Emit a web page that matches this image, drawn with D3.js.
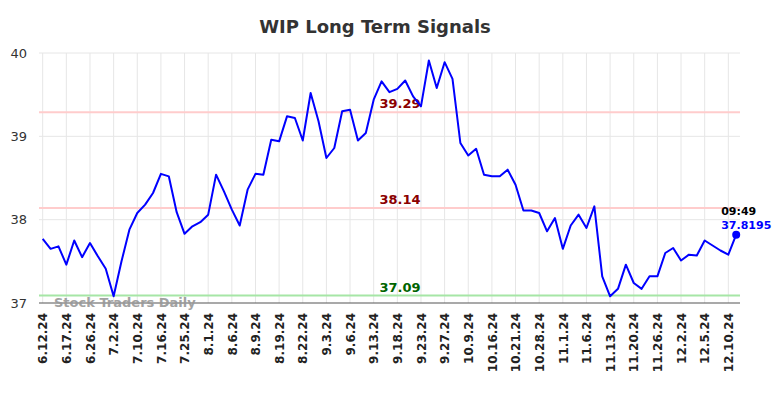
<!DOCTYPE html>
<html>
<head>
<meta charset="utf-8">
<script src="https://cdn.jsdelivr.net/npm/d3@7"></script>
<style>
  body { margin: 0; background: #fff; font-family: "DejaVu Sans", sans-serif; }
</style>
</head>
<body>
<div id="chart"></div>
<script>
// price values, one per trading session
const values = [
  37.77, 37.65, 37.68, 37.46, 37.75, 37.55, 37.72, 37.56, 37.41, 37.08,
  37.50, 37.88, 38.08, 38.18, 38.32, 38.55, 38.52, 38.09, 37.83, 37.92,
  37.97, 38.06, 38.54, 38.34, 38.12, 37.93, 38.36, 38.55, 38.54, 38.96,
  38.94, 39.24, 39.22, 38.95, 39.52, 39.18, 38.74, 38.86, 39.30, 39.32,
  38.95, 39.04, 39.44, 39.66, 39.53, 39.57, 39.67, 39.48, 39.36, 39.91,
  39.58, 39.89, 39.69, 38.92, 38.77, 38.85, 38.54, 38.52, 38.52, 38.60,
  38.42, 38.11, 38.11, 38.08, 37.86, 38.02, 37.65, 37.93, 38.06, 37.90,
  38.16, 37.32, 37.08, 37.17, 37.46, 37.24, 37.17, 37.32, 37.32, 37.60,
  37.66, 37.51, 37.58, 37.57, 37.75, 37.69, 37.63, 37.58, 37.8195
];

// one date label every third session
const tickLabels = [
  "6.12.24", "6.17.24", "6.26.24", "7.2.24", "7.10.24", "7.16.24", "7.25.24",
  "8.1.24", "8.6.24", "8.9.24", "8.19.24", "8.22.24", "9.3.24", "9.6.24",
  "9.13.24", "9.18.24", "9.23.24", "9.27.24", "10.9.24", "10.16.24",
  "10.21.24", "10.28.24", "11.1.24", "11.6.24", "11.13.24", "11.20.24",
  "11.26.24", "12.2.24", "12.5.24", "12.10.24"
];
const tickStep = 3;

const yTicks = [37, 38, 39, 40];

// signal levels
const levels = [39.29, 38.14, 37.09];
const levelColors = ["#ffcccc", "#ffcccc", "#a6e6a6"];
const levelTextColors = ["#8b0000", "#8b0000", "#006400"];

const lastTime = "09:49";

const width = 784, height = 398;
const plotLeft = 39, plotRight = 740, plotTop = 53, plotBottom = 303;

const svg = d3.select("#chart")
  .append("svg")
  .attr("width", width)
  .attr("height", height);

const x = d3.scaleLinear()
  .domain([0, values.length - 1])
  .range([42.7, 736.2]);

const y = d3.scaleLinear()
  .domain([37, 40])
  .range([plotBottom, plotTop]);

// title
svg.append("text")
  .attr("x", 375)
  .attr("y", 33)
  .attr("text-anchor", "middle")
  .style("font-size", "18px")
  .style("font-weight", "bold")
  .attr("fill", "#333")
  .text("WIP Long Term Signals");

// grid
const tickIdx = tickLabels.map((d, i) => i * tickStep);

svg.append("g")
  .selectAll("line")
  .data(tickIdx)
  .enter().append("line")
  .attr("x1", d => x(d)).attr("x2", d => x(d))
  .attr("y1", plotTop).attr("y2", plotBottom)
  .attr("stroke", "#e6e6e6")
  .attr("stroke-width", 1);

svg.append("g")
  .selectAll("line")
  .data(yTicks.slice(1))
  .enter().append("line")
  .attr("x1", plotLeft).attr("x2", plotRight)
  .attr("y1", d => y(d)).attr("y2", d => y(d))
  .attr("stroke", "#e6e6e6")
  .attr("stroke-width", 1);

// y axis labels
const yAxis = svg.append("g")
  .attr("transform", `translate(${plotLeft},0)`)
  .call(d3.axisLeft(y).tickValues(yTicks).tickFormat(d3.format("d")).tickSize(0).tickPadding(12));
yAxis.select(".domain").remove();
yAxis.selectAll("text")
  .style("font-size", "13px")
  .style("font-family", "DejaVu Sans, sans-serif")
  .attr("fill", "#333");

// x axis
const xAxis = svg.append("g")
  .attr("transform", `translate(0,${plotBottom})`)
  .call(d3.axisBottom(x).tickValues(tickIdx).tickFormat((d, i) => tickLabels[i]).tickSize(0).tickPadding(0));
xAxis.select(".domain").remove();
xAxis.selectAll("text")
  .attr("transform", "rotate(-90)")
  .attr("x", -10)
  .attr("y", 0)
  .attr("dy", "0.35em")
  .style("text-anchor", "end")
  .style("font-size", "12px")
  .style("font-weight", "bold")
  .style("font-family", "DejaVu Sans, sans-serif")
  .attr("fill", "#222");

// level lines
svg.append("g")
  .selectAll("line")
  .data(levels)
  .enter().append("line")
  .attr("x1", plotLeft).attr("x2", plotRight)
  .attr("y1", d => y(d)).attr("y2", d => y(d))
  .attr("stroke", (d, i) => levelColors[i])
  .attr("stroke-width", 2);

svg.append("g")
  .selectAll("text")
  .data(levels)
  .enter().append("text")
  .attr("x", 400)
  .attr("y", d => y(d) - 4)
  .attr("text-anchor", "middle")
  .style("font-size", "13px")
  .style("font-weight", "bold")
  .attr("fill", (d, i) => levelTextColors[i])
  .text(d => d.toFixed(2));

// bottom axis line
svg.append("line")
  .attr("x1", plotLeft).attr("x2", plotRight)
  .attr("y1", plotBottom).attr("y2", plotBottom)
  .attr("stroke", "#555")
  .attr("stroke-width", 1.2);

// watermark
svg.append("text")
  .attr("x", 54)
  .attr("y", 307)
  .style("font-size", "13px")
  .style("font-weight", "bold")
  .attr("fill", "#999")
  .attr("opacity", 0.9)
  .text("Stock Traders Daily");

// price line
const line = d3.line()
  .x((d, i) => x(i))
  .y(d => y(d));

svg.append("path")
  .datum(values)
  .attr("fill", "none")
  .attr("stroke", "#0000ff")
  .attr("stroke-width", 2)
  .attr("stroke-linejoin", "round")
  .attr("d", line);

// last point
const lastI = values.length - 1;
const lastV = values[lastI];
svg.append("circle")
  .attr("cx", x(lastI))
  .attr("cy", y(lastV))
  .attr("r", 4)
  .attr("fill", "#0000ff");

svg.append("text")
  .attr("x", x(lastI) - 15)
  .attr("y", y(lastV) - 20)
  .style("font-size", "11px")
  .style("font-weight", "bold")
  .attr("fill", "#000")
  .text(lastTime);

svg.append("text")
  .attr("x", x(lastI) - 15)
  .attr("y", y(lastV) - 6)
  .style("font-size", "11px")
  .style("font-weight", "bold")
  .attr("fill", "#0000ff")
  .text(lastV);
</script>
</body>
</html>
